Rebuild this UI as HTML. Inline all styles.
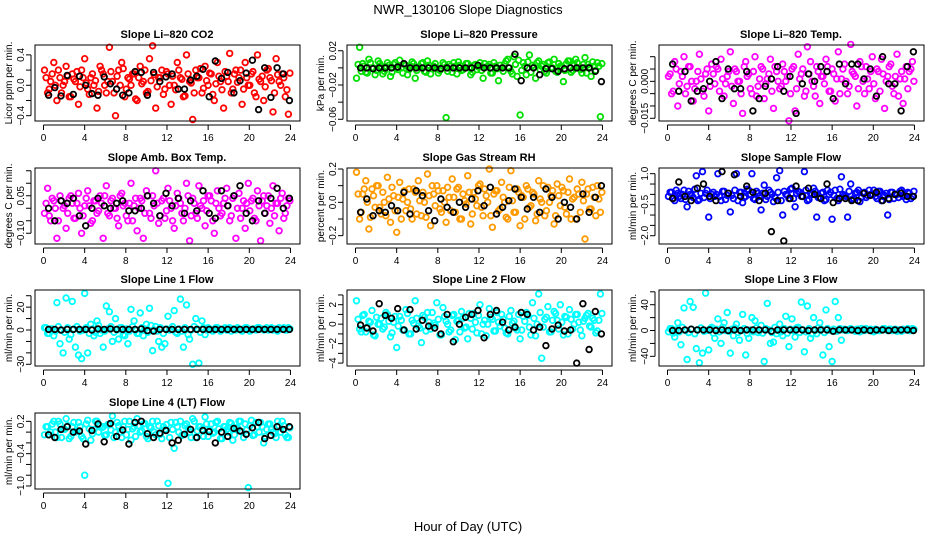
<!DOCTYPE html>
<html><head><meta charset="utf-8">
<style>
html,body{margin:0;padding:0;background:#fff;}
svg{display:block;font-family:"Liberation Sans",sans-serif;}
</style></head>
<body>
<svg id="chart" width="936" height="540" viewBox="0 0 936 540">
<text x="468" y="14" text-anchor="middle" font-size="13">NWR_130106  Slope Diagnostics</text>
<text x="468" y="531" text-anchor="middle" font-size="13">Hour of Day (UTC)</text>
</svg>
<script>
const colorHours=[0.1,0.4,0.7,1.0,1.3,1.6,1.9,2.2,2.5,2.8,3.1,3.4,3.7,4.0,4.3,4.6,4.9,5.2,5.5,5.8,6.1,6.4,6.7,7.0,7.3,7.6,7.9,8.2,8.5,8.8,9.1,9.4,9.7,10.0,10.3,10.6,10.9,11.2,11.5,11.8,12.1,12.4,12.7,13.0,13.3,13.6,13.9,14.2,14.5,14.8,15.1,15.4,15.7,16.0,16.3,16.6,16.9,17.2,17.5,17.8,18.1,18.4,18.7,19.0,19.3,19.6,19.9,20.2,20.5,20.8,21.1,21.4,21.7,22.0,22.3,22.6,22.9,23.2,23.5,23.8];
const coreHours=[0.25,0.55,0.85,1.15,1.45,1.75,2.05,2.35,2.65,2.95,3.25,3.55,3.85,4.15,4.45,4.75,5.05,5.35,5.65,5.95,6.25,6.55,6.85,7.15,7.45,7.75,8.05,8.35,8.65,8.95,9.25,9.55,9.85,10.15,10.45,10.75,11.05,11.35,11.65,11.95,12.25,12.55,12.85,13.15,13.45,13.75,14.05,14.35,14.65,14.95,15.25,15.55,15.85,16.15,16.45,16.75,17.05,17.35,17.65,17.95,18.25,18.55,18.85,19.15,19.45,19.75,20.05,20.35,20.65,20.95,21.25,21.55,21.85,22.15,22.45,22.75,23.05,23.35,23.65,23.95];
const blackHours=[0.5,1.1,1.7,2.3,2.9,3.5,4.1,4.7,5.3,5.9,6.5,7.1,7.7,8.3,8.9,9.5,10.1,10.7,11.3,11.9,12.5,13.1,13.7,14.3,14.9,15.5,16.1,16.7,17.3,17.9,18.5,19.1,19.7,20.3,20.9,21.5,22.1,22.7,23.3,23.9];
const xTicks=[0,4,8,12,16,20,24];

const co2Vals=[0.2,-0.1,0.05,0.3,-0.2,0.1,0.0,0.25,-0.15,0.15,0.05,-0.25,0.2,0.35,-0.05,0.1,0.0,-0.3,0.25,0.15,-0.1,0.5,0.05,-0.4,0.2,0.3,-0.15,0.1,0.0,0.15,-0.2,0.25,0.05,-0.1,0.35,0.52,-0.3,0.1,0.2,-0.05,0.15,-0.25,0.0,0.3,0.1,-0.15,0.4,0.05,-0.45,0.2,0.1,-0.1,0.25,0.0,0.15,-0.2,0.3,0.05,-0.3,0.12,0.42,-0.05,0.2,0.1,-0.25,0.3,0.0,0.15,-0.1,0.4,0.05,-0.2,0.2,0.1,-0.35,0.35,0.05,0.15,-0.15,-0.38];
const co2Core=[0.1,-0.05,0.15,0.0,0.2,-0.1,0.05,0.12,-0.15,0.08,0.18,-0.02,0.1,0.03,-0.12,0.15,0.06,-0.08,0.2,0.0,0.05,0.18,-0.1,0.12,0.0,0.22,-0.05,0.08,0.15,-0.18,0.1,0.02,0.2,-0.08,0.06,0.14,-0.02,0.1,-0.12,0.18,0.0,0.12,-0.06,0.2,0.08,-0.14,0.15,0.03,-0.1,0.1,0.22,-0.04,0.06,0.16,-0.12,0.02,0.12,-0.06,0.18,0.05,-0.1,0.15,0.04,0.2,-0.05,0.1,0.0,0.18,-0.15,0.08,0.12,-0.02,0.22,0.06,-0.1,0.14,0.0,0.1,-0.06,0.16];
const co2Black=[-0.13,-0.03,-0.14,0.13,-0.12,0.12,0.0,-0.11,-0.13,0.11,0.02,-0.05,-0.13,-0.1,0.18,0.17,-0.13,0.17,0.05,0.11,0.15,-0.05,-0.05,0.07,0.12,0.21,-0.15,0.32,0.09,0.17,-0.1,0.06,0.16,0.33,-0.32,0.23,-0.16,0.23,0.15,-0.2];

const presVals=[-0.012,0.024,0.005,-0.005,0.01,0.0,-0.008,0.008,0.002,-0.004,0.006,-0.01,0.004,0.0,0.009,-0.006,0.003,-0.002,0.007,-0.012,0.001,0.005,-0.004,0.008,-0.007,0.002,0.0,-0.003,0.006,-0.058,0.004,-0.005,0.002,0.007,-0.003,0.0,0.005,-0.008,0.003,-0.002,0.006,-0.012,0.001,0.004,-0.006,0.002,-0.015,0.0,0.005,0.01,-0.004,0.013,-0.01,-0.055,0.006,-0.008,0.015,0.003,-0.012,0.008,0.002,-0.004,0.006,0.0,0.01,-0.005,0.002,-0.016,0.005,0.008,-0.003,0.01,0.0,-0.006,0.012,0.004,-0.01,0.002,0.006,-0.057];
const presCore=[0.004,-0.004,0.002,-0.006,0.006,0.0,-0.003,0.005,-0.007,0.001,0.003,-0.005,0.006,-0.002,0.0,0.004,-0.008,0.002,0.005,-0.003,0.001,0.006,-0.005,0.003,-0.001,0.005,-0.006,0.0,0.004,-0.004,0.002,0.006,-0.007,0.003,-0.002,0.005,0.0,-0.005,0.004,0.001,-0.003,0.005,0.002,-0.006,0.006,-0.001,0.003,-0.004,0.008,0.0,-0.007,0.004,0.009,-0.003,0.002,0.007,-0.005,0.001,0.006,-0.002,0.004,-0.006,0.007,0.0,-0.004,0.005,0.002,-0.003,0.008,-0.005,0.003,0.006,-0.002,0.004,-0.006,0.001,0.007,-0.003,0.002,0.005];
const presBlack=[0,0,-0.001,0,0,0,0.001,0.005,0,0,0,0,0,-0.001,0,0,0,0,0,0.003,0,0,0,0,0,0.016,-0.015,0,0,-0.008,-0.001,-0.001,-0.004,-0.001,0,0,0,0,-0.004,-0.016];

const tempVals=[0.002,-0.005,0.008,-0.01,0.004,0.01,-0.002,0.006,-0.008,0.0,0.011,-0.004,0.003,-0.012,0.007,-0.001,0.005,0.009,-0.006,0.002,0.012,-0.009,0.004,0.0,-0.013,0.008,0.003,-0.005,0.01,-0.002,0.006,-0.007,0.001,0.009,-0.011,0.004,-0.003,0.007,0.0,-0.016,0.005,-0.012,0.011,0.003,-0.006,0.014,0.008,-0.002,0.006,-0.009,0.002,0.009,-0.004,0.005,-0.008,0.012,0.001,0.007,-0.005,0.015,0.003,-0.01,0.008,0.0,0.006,-0.003,0.01,-0.007,0.004,0.009,-0.011,0.002,0.007,-0.005,0.011,0.001,-0.009,0.006,0.004,0.008];
const tempCore=[0.003,-0.004,0.005,-0.001,0.002,-0.005,0.006,0.0,-0.003,0.004,0.001,-0.006,0.005,-0.002,0.003,0.006,-0.004,0.001,-0.001,0.004,-0.002,0.005,0.0,-0.005,0.006,0.002,-0.003,0.004,-0.006,0.001,0.005,-0.001,0.003,-0.004,0.006,0.0,-0.002,0.004,0.002,-0.005,0.006,-0.003,0.001,0.005,-0.004,0.003,0.0,-0.006,0.004,0.002,-0.001,0.006,-0.004,0.003,0.001,-0.005,0.005,0.0,-0.002,0.004,0.002,-0.003,0.006,-0.005,0.001,0.004,-0.001,0.005,-0.004,0.003,0.0,0.006,-0.002,0.002,-0.006,0.004,0.001,-0.003,0.005,0.0];
const tempBlack=[0.007,-0.004,0.004,-0.008,-0.004,-0.003,0.0,0.008,-0.007,0.005,-0.003,-0.003,0.004,-0.012,-0.007,-0.002,0.001,0.006,-0.004,0.002,-0.013,-0.001,0.003,0.0,0.006,0.004,-0.007,0.007,-0.001,0.007,0.007,0.001,0.005,-0.006,0.01,-0.001,-0.001,-0.012,0.006,0.012];

const ambVals=[-0.02,0.08,-0.05,0.03,-0.12,0.05,0.0,-0.08,0.04,0.02,-0.04,0.06,-0.1,0.01,0.07,-0.06,0.03,-0.02,0.05,-0.12,0.09,-0.03,0.04,0.0,-0.07,0.06,0.02,-0.05,0.1,0.01,-0.09,0.04,-0.12,0.07,-0.02,0.05,0.15,-0.06,0.03,-0.04,0.08,0.0,-0.08,0.06,0.02,-0.05,0.1,-0.13,0.04,-0.02,0.09,0.0,-0.07,0.05,0.03,-0.1,0.07,-0.03,0.02,0.08,-0.05,0.04,-0.12,0.06,0.0,-0.08,0.1,0.03,-0.04,0.07,-0.13,0.05,0.01,-0.06,0.09,0.02,-0.09,0.06,-0.02,0.04];
const ambCore=[0.02,-0.03,0.04,0.0,-0.05,0.03,0.01,-0.02,0.05,-0.04,0.02,0.0,-0.03,0.04,0.01,-0.05,0.03,-0.01,0.02,0.05,-0.02,0.03,0.0,-0.04,0.05,0.01,-0.03,0.02,-0.05,0.04,0.0,0.03,-0.02,0.05,-0.04,0.01,0.02,-0.03,0.04,-0.01,0.03,-0.05,0.01,0.04,-0.02,0.0,0.05,-0.03,0.02,-0.04,0.01,0.03,-0.01,0.05,-0.05,0.02,0.0,-0.02,0.04,0.01,-0.03,0.05,0.0,-0.04,0.03,0.02,-0.01,0.04,-0.05,0.01,0.03,-0.02,0.05,0.0,-0.03,0.02,0.04,-0.04,0.01,0.03];
const ambBlack=[0.0,-0.05,0.03,0.02,0.04,-0.03,-0.07,0.0,0.04,0.01,0.0,0.02,0.03,-0.01,-0.01,0.0,0.05,0.02,-0.03,0.06,0.01,0.04,-0.02,0.03,-0.01,0.07,-0.02,-0.04,0.07,0.01,0.05,0.09,-0.02,-0.05,0.03,-0.02,0.04,0.08,0.0,0.04];

const rhVals=[0.18,-0.1,0.05,0.13,-0.16,0.08,-0.03,0.1,-0.07,0.0,0.15,-0.12,0.04,-0.18,0.12,0.02,-0.05,0.08,-0.1,0.06,0.13,-0.08,0.0,0.17,-0.14,0.05,0.1,-0.04,0.07,-0.12,0.03,0.14,-0.06,0.09,-0.1,0.01,0.16,-0.13,0.06,-0.02,0.11,-0.08,0.04,0.2,-0.15,0.07,-0.05,0.12,0.0,-0.1,0.19,-0.06,0.08,-0.14,0.03,0.1,-0.03,0.06,-0.11,0.13,0.0,-0.08,0.09,0.04,-0.13,0.11,-0.02,0.07,-0.07,0.14,0.02,-0.1,0.05,0.12,-0.22,0.08,-0.04,0.03,0.1,-0.06];
const rhCore=[0.05,-0.06,0.08,0.0,-0.09,0.04,0.1,-0.03,0.06,-0.08,0.02,0.09,-0.05,0.03,-0.1,0.07,0.0,-0.04,0.08,-0.07,0.01,0.06,-0.09,0.04,0.1,-0.02,0.07,-0.06,0.0,0.09,-0.05,0.03,0.08,-0.1,0.05,-0.01,0.06,-0.07,0.02,0.1,-0.03,0.08,0.0,-0.08,0.05,0.07,-0.04,0.03,-0.09,0.09,0.01,-0.06,0.06,0.04,-0.1,0.08,-0.02,0.05,-0.07,0.02,0.1,-0.05,0.0,0.07,-0.08,0.04,0.09,-0.03,0.06,-0.1,0.03,0.08,-0.06,0.01,0.05,-0.04,0.09,-0.08,0.02,0.06];
const rhBlack=[-0.06,0.02,-0.08,-0.05,-0.06,-0.02,-0.05,0.06,-0.07,0.07,0.04,-0.05,-0.11,0.02,-0.03,-0.06,0.0,-0.03,0.02,0.07,-0.02,0.09,-0.07,-0.03,0.01,0.08,0.03,-0.04,0.03,-0.06,0.08,0.03,-0.1,0.0,-0.03,-0.1,0.05,-0.06,0.03,0.1];

const flowVals=[-0.1,0.1,-0.3,0.05,-0.2,0.2,-0.6,0.0,-0.15,0.9,-0.25,1.1,0.05,-1.1,0.0,-0.1,1.0,-0.3,0.15,-0.05,-0.85,-0.2,1.0,0.1,-0.4,-0.1,0.2,1.0,-0.25,0.05,-0.75,0.45,-0.1,0.1,-0.35,0.8,1.15,-1.0,0.0,-0.2,0.3,-0.6,0.15,-0.1,1.1,-0.3,0.05,0.3,-1.1,-0.15,0.1,-0.25,0.0,-1.2,0.2,-0.3,0.85,-0.05,-1.1,0.5,-0.2,0.1,-0.35,0.05,-0.15,0.2,0.0,-0.1,0.15,-0.3,-0.05,-1.0,0.1,-0.2,0.0,0.15,-0.1,-0.25,0.05,-0.1];
const flowCore=[0.1,-0.2,0.2,-0.1,0.0,-0.25,0.15,-0.05,0.25,-0.3,0.05,-0.15,0.2,-0.2,0.1,0.0,-0.1,0.15,-0.25,0.05,-0.05,0.2,-0.3,0.1,-0.15,0.25,0.0,-0.2,0.15,-0.1,0.05,-0.25,0.2,0.0,-0.15,0.1,-0.3,0.15,-0.05,0.25,-0.2,0.05,0.1,-0.1,0.2,-0.25,0.0,0.15,-0.15,0.05,-0.3,0.2,0.1,-0.05,-0.2,0.25,0.0,-0.1,0.15,-0.25,0.05,0.2,-0.15,0.1,-0.05,0.0,0.2,-0.2,0.15,-0.1,0.05,-0.25,0.1,0.0,-0.15,0.2,-0.05,0.1,-0.2,0.15];
const flowBlack=[-0.2,0.6,-0.1,-0.3,0.3,0.5,-0.1,-0.3,1.1,0.05,0.95,-0.1,0.4,0.1,-0.3,0.05,-1.8,-0.3,-2.25,-0.2,0.4,-0.1,0.3,0.0,-0.2,0.5,-0.4,-0.2,-0.2,-0.3,-0.3,0.05,-0.05,0.1,-0.3,-0.2,0.0,0.05,-0.1,-0.1];

const line1Vals=[2,-3,1,-5,24,-12,-20,28,-8,25,-15,-22,-25,32,-20,5,-5,8,-3,-15,21,16,-10,10,-8,2,-5,-12,18,8,-3,15,-5,5,19,-18,3,-10,-15,-12,12,1,17,-3,27,-15,22,-8,-30,10,-29,8,-4,2,0,1,2,-1,1,0,2,1,0,1,-1,2,1,0,1,2,1,0,2,1,0,1,2,1,0,2];
const line1Core=[2,-3,1,-1,3,0,-2,2,-4,1,3,-1,0,2,-3,1,-2,4,0,-1,1,3,-2,0,2,-4,1,-1,3,0,-3,2,1,-2,4,0,-1,2,-3,1,0,3,-2,1,-1,2,-4,0,3,1,-2,2,0,1,-1,2,1,0,2,1,-1,1,2,0,1,2,-1,1,0,2,1,1,0,2,1,-1,1,2,0,1];
const line1Black=[0.5,0.5,0,0.5,0.5,0.5,0.5,0,1,0.5,1,0.5,0.5,0.5,0.5,1,-0.5,-1,0.5,0.5,0.5,0.5,0.5,0.5,0.5,0.5,0.5,0.5,0.5,0.5,0.5,0.5,0.5,0.5,0.5,0.5,0.5,0.5,0.5,0.5];

const line2Vals=[2.4,-0.5,0.9,-0.8,0.3,1.4,-1.2,0.0,0.6,-0.3,1.0,-1.3,0.2,-2.4,0.8,-0.6,1.5,-1.0,0.4,2.4,-0.2,-1.9,0.7,1.2,-0.5,0.1,2.2,-1.1,1.7,0.3,-0.8,0.9,-1.6,0.4,1.3,-0.4,-1.5,0.6,1.1,-0.9,2.0,0.0,-1.2,1.6,0.5,-0.7,0.2,1.0,-0.4,-1.0,1.4,0.3,-0.6,-1.5,0.8,1.2,-0.3,2.2,-1.2,3.1,-3.5,0.5,1.8,-0.8,1.3,0.4,2.0,-1.1,0.7,1.5,-0.5,1.0,0.2,-1.2,0.6,1.1,-0.3,0.4,-0.7,3.1];
const line2Core=[0.5,-0.8,1.0,-0.3,0.2,-1.1,0.7,0.0,-0.5,1.2,0.3,-0.9,0.8,-0.2,0.4,-0.6,1.1,-1.0,0.1,0.6,-0.4,0.9,-0.7,0.2,1.2,-0.1,0.5,-1.1,0.8,0.0,-0.6,1.0,0.3,-0.8,0.6,-0.3,1.1,-0.5,0.2,0.9,-1.0,0.4,0.0,0.7,-0.7,1.2,-0.2,0.5,-0.9,0.8,0.1,-0.4,1.0,-0.6,0.3,0.9,-1.1,0.6,0.0,1.2,-0.3,0.7,-0.8,0.4,1.1,-0.5,0.2,0.8,-1.0,0.5,0.0,1.0,-0.6,0.3,0.9,-0.2,0.6,-0.9,0.4,1.1];
const line2Black=[-0.1,-0.4,-0.7,2.1,0.9,0.6,1.6,-0.6,1.5,-0.5,0.4,-0.2,-0.4,-1.0,1.0,-1.8,0.0,0.7,1.0,1.4,-1.4,1.0,1.4,0.2,-0.6,-0.3,1.2,1.0,-0.6,-0.3,-2.2,-0.5,-0.1,-0.7,-0.6,-4.0,2.1,-2.6,1.3,-1.0];

const line3Vals=[-2,3,-10,12,-22,35,-45,45,36,-28,-50,-35,58,-30,5,-12,18,-20,12,28,-35,-8,10,-15,25,-38,-12,20,15,-3,8,-48,42,-20,-18,-5,10,-8,22,-25,18,-10,5,44,-33,38,-12,20,-5,12,-38,32,-25,-48,45,20,-15,2,0,3,1,2,-2,0,3,1,-1,2,0,1,3,0,2,1,-1,0,2,1,0,3];
const line3Core=[3,-4,1,-2,5,0,-3,2,-5,1,4,-1,0,3,-4,2,-2,5,0,-1,2,4,-3,0,3,-5,1,-2,4,0,-4,3,1,-3,5,0,-2,3,-4,2,0,4,-3,1,-2,3,-5,0,4,2,-3,3,0,2,-1,3,1,0,2,1,-1,2,3,0,1,2,-2,1,0,3,1,2,0,2,1,-1,1,3,0,2];
const line3Black=[0,0,1,2,1,1,1,0,1,0,1,0,1,1,1,1,-1,1,1,1,1,1,0,1,1,1,-1,1,1,1,0,1,0,1,1,0,1,1,1,0];

const line4Vals=[-0.05,0.1,0.0,0.2,-0.1,0.15,0.05,0.25,-0.12,0.1,0.0,0.18,-0.08,-0.8,0.22,-0.15,0.05,0.2,0.12,0.1,-0.05,0.15,0.3,0.0,0.12,-0.1,0.2,0.05,-0.15,0.1,0.25,0.0,0.15,-0.08,0.1,0.2,-0.05,0.12,-0.12,0.05,-0.95,0.18,-0.3,0.1,0.2,-0.05,0.15,0.0,0.25,-0.1,0.1,0.05,0.28,-0.08,0.15,0.0,0.2,-0.12,0.1,0.05,0.18,-0.15,0.08,0.2,0.0,0.15,-1.03,0.22,-0.05,0.1,0.18,-0.2,0.05,0.15,0.0,-0.1,0.12,0.2,-0.05,-0.1];
const line4Core=[0.1,-0.05,0.15,0.0,0.2,-0.1,0.05,0.12,-0.08,0.18,0.02,0.1,-0.12,0.15,0.06,-0.03,0.2,0.0,0.08,-0.06,0.14,0.04,-0.1,0.18,0.0,0.1,-0.05,0.2,0.06,-0.08,0.12,0.02,0.16,-0.12,0.08,0.0,0.2,-0.04,0.1,0.14,-0.1,0.05,0.18,0.0,-0.06,0.12,0.08,-0.1,0.2,0.02,0.1,-0.08,0.15,0.04,-0.02,0.18,0.06,-0.12,0.1,0.0,0.16,-0.05,0.08,0.2,-0.1,0.04,0.12,-0.06,0.18,0.0,0.1,-0.08,0.15,0.05,-0.03,0.2,0.0,0.12,-0.1,0.08];
const line4Black=[-0.05,-0.1,0.05,0.1,0.0,0.02,-0.22,0.03,0.15,-0.18,0.16,-0.08,0.04,-0.22,0.18,0.2,-0.03,-0.1,-0.02,0.03,-0.2,-0.15,-0.04,0.05,-0.1,0.03,0.01,-0.2,0.0,-0.08,0.07,0.02,-0.04,0.08,0.18,-0.12,-0.06,0.1,0.05,0.1];

const co2Ticks=[-0.4,-0.2,0.0,0.2,0.4], co2Labels=["−0.4","","0.0","","0.4"];
const presTicks=[-0.06,-0.04,-0.02,0.0,0.02], presLabels=["−0.06","","−0.02","","0.02"];
const tempTicks=[-0.015,-0.01,-0.005,0.0,0.005,0.01], tempLabels=["−0.015","","","0.000","",""];
const ambTicks=[-0.1,-0.05,0.0,0.05,0.1,0.15], ambLabels=["−0.10","","","0.05","",""];
const rhTicks=[-0.2,-0.1,0.0,0.1,0.2], rhLabels=["−0.2","","0.0","","0.2"];
const flowTicks=[-2.0,-1.5,-1.0,-0.5,0.0,0.5,1.0], flowLabels=["−2.0","","","−0.5","","","1.0"];
const line1Ticks=[-30,-20,-10,0,10,20,30], line1Labels=["−30","","","0","","20",""];
const line2Ticks=[-4,-3,-2,-1,0,1,2,3], line2Labels=["−4","","−2","","0","","2",""];
const line3Ticks=[-40,-20,0,20,40,60], line3Labels=["−40","","0","","40",""];
const line4Ticks=[-1.0,-0.8,-0.6,-0.4,-0.2,0.0,0.2], line4Labels=["−1.0","","","−0.4","","","0.2"];

const panels=[
 {name:"co2",title:"Slope Li–820 CO2",ylab:"Licor ppm per min.",col:"#ff0000",ylim:[-0.47,0.53],t:co2Ticks,l:co2Labels,v:co2Vals,k:co2Core,b:co2Black,c:0,r:0},
 {name:"pressure",title:"Slope Li–820 Pressure",ylab:"kPa per min.",col:"#00e000",ylim:[-0.062,0.0267],t:presTicks,l:presLabels,v:presVals,k:presCore,b:presBlack,c:1,r:0},
 {name:"li820-temp",title:"Slope Li–820 Temp.",ylab:"degrees C per min.",col:"#ff00ff",ylim:[-0.0161,0.01475],t:tempTicks,l:tempLabels,v:tempVals,k:tempCore,b:tempBlack,c:2,r:0},
 {name:"amb-box-temp",title:"Slope Amb. Box Temp.",ylab:"degrees C per min.",col:"#ff00ff",ylim:[-0.143,0.161],t:ambTicks,l:ambLabels,v:ambVals,k:ambCore,b:ambBlack,c:0,r:1},
 {name:"gas-stream-rh",title:"Slope Gas Stream RH",ylab:"percent per min.",col:"#ff9a00",ylim:[-0.25,0.206],t:rhTicks,l:rhLabels,v:rhVals,k:rhCore,b:rhBlack,c:1,r:1},
 {name:"sample-flow",title:"Slope Sample Flow",ylab:"ml/min per min.",col:"#0000ff",ylim:[-2.4,1.275],t:flowTicks,l:flowLabels,v:flowVals,k:flowCore,b:flowBlack,c:2,r:1},
 {name:"line1-flow",title:"Slope Line 1 Flow",ylab:"ml/min per min.",col:"#00ffff",ylim:[-31.5,35],t:line1Ticks,l:line1Labels,v:line1Vals,k:line1Core,b:line1Black,c:0,r:2},
 {name:"line2-flow",title:"Slope Line 2 Flow",ylab:"ml/min per min.",col:"#00ffff",ylim:[-4.3,3.51],t:line2Ticks,l:line2Labels,v:line2Vals,k:line2Core,b:line2Black,c:1,r:2},
 {name:"line3-flow",title:"Slope Line 3 Flow",ylab:"ml/min per min.",col:"#00ffff",ylim:[-55,62.8],t:line3Ticks,l:line3Labels,v:line3Vals,k:line3Core,b:line3Black,c:2,r:2},
 {name:"line4-flow",title:"Slope Line 4 (LT) Flow",ylab:"ml/min per min.",col:"#00ffff",ylim:[-1.056,0.355],t:line4Ticks,l:line4Labels,v:line4Vals,k:line4Core,b:line4Black,c:0,r:3}
];

const NS="http://www.w3.org/2000/svg";
const svg=document.getElementById('chart');
const colX=[0,312,624], rowY=[45,168,290,413], boxH=76;
function mk(tag,attrs,parent){const e=document.createElementNS(NS,tag);for(const k in attrs)e.setAttribute(k,attrs[k]);parent.appendChild(e);return e;}

panels.forEach(p=>{
  const cx=colX[p.c], top=rowY[p.r], bot=top+boxH;
  const xs=h=>cx+43.5+h*10.29;
  const ys=v=>bot-(v-p.ylim[0])/(p.ylim[1]-p.ylim[0])*boxH;
  const g=mk('g',{},svg);
  
  
  const title=mk('text',{x:cx+167,y:top-7,'text-anchor':'middle','font-size':11,'font-weight':'bold'},g);
  title.textContent=p.title;
  
  
  const yl=mk('text',{x:0,y:0,'text-anchor':'middle','font-size':10,transform:`translate(${cx+12},${top+38}) rotate(-90)`},g);
  yl.textContent=p.ylab;
  
  
  const pts=mk('g',{fill:'none',stroke:p.col,'stroke-width':1.8},g);
  
  
  p.k.forEach((v,i)=>{
    const c=mk('circle',{cx:xs(coreHours[i]).toFixed(1),cy:ys(v).toFixed(1),r:2.8},pts);
    
    
  });
  p.v.forEach((v,i)=>{
    const c=mk('circle',{cx:xs(colorHours[i]).toFixed(1),cy:ys(v).toFixed(1),r:2.8},pts);
    
    
  });
  const bp=mk('g',{fill:'none',stroke:'#000','stroke-width':1.8},g);
  
  
  p.b.forEach((v,i)=>{
    const c=mk('circle',{cx:xs(blackHours[i]).toFixed(1),cy:ys(v).toFixed(1),r:2.8},bp);
    
    
  });
  const box=mk('rect',{x:cx+35,y:top,width:265,height:boxH,fill:'none',stroke:'#000','stroke-width':1},g);
  
  
  const xa=mk('g',{},g);
  
  
  mk('line',{x1:xs(0),x2:xs(24),y1:bot+4,y2:bot+4,stroke:'#000'},xa);
  xTicks.forEach(h=>{
    mk('line',{x1:xs(h),x2:xs(h),y1:bot+4,y2:bot+9,stroke:'#000'},xa);
    const t=mk('text',{x:xs(h),y:bot+20,'text-anchor':'middle','font-size':10},xa);
    t.textContent=h;
    
    
  });
  const ya=mk('g',{},g);
  
  
  mk('line',{x1:cx+31,x2:cx+31,y1:ys(p.t[0]),y2:ys(p.t[p.t.length-1]),stroke:'#000'},ya);
  p.t.forEach((v,i)=>{
    const y=ys(v);
    mk('line',{x1:cx+26,x2:cx+31,y1:y,y2:y,stroke:'#000'},ya);
    if(p.l[i]){
      const t=mk('text',{x:0,y:0,'text-anchor':'middle','font-size':10,transform:`translate(${cx+24},${y}) rotate(-90)`},ya);
      t.textContent=p.l[i];
      
      
    }
  });
});
</script>
</body></html>
